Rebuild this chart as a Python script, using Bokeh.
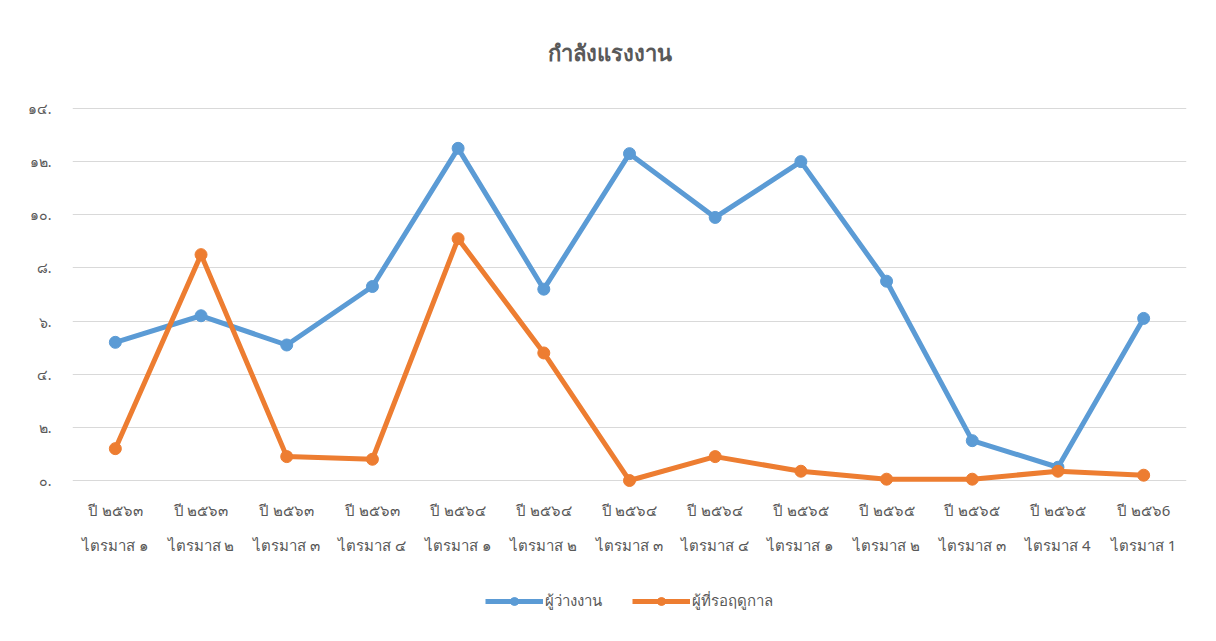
from bokeh.plotting import figure
from bokeh.layouts import column
from bokeh.models import FixedTicker, Legend, LegendItem, ColumnDataSource, LinearAxis
from bokeh.embed import file_html
from bokeh.resources import INLINE

years = ["ปี ๒๕๖๓", "ปี ๒๕๖๓", "ปี ๒๕๖๓", "ปี ๒๕๖๓", "ปี ๒๕๖๔", "ปี ๒๕๖๔", "ปี ๒๕๖๔",
         "ปี ๒๕๖๔", "ปี ๒๕๖๕", "ปี ๒๕๖๕", "ปี ๒๕๖๕", "ปี ๒๕๖๕", "ปี ๒๕๖6"]
quarters = ["ไตรมาส ๑", "ไตรมาส ๒", "ไตรมาส ๓", "ไตรมาส ๔", "ไตรมาส ๑", "ไตรมาส ๒", "ไตรมาส ๓",
            "ไตรมาส ๔", "ไตรมาส ๑", "ไตรมาส ๒", "ไตรมาส ๓", "ไตรมาส 4", "ไตรมาส 1"]
unemployed = [5.2, 6.2, 5.1, 7.3, 12.5, 7.2, 12.3, 9.9, 12.0, 7.5, 1.5, 0.5, 6.1]
seasonal = [1.2, 8.5, 0.9, 0.8, 9.1, 4.8, 0.0, 0.9, 0.35, 0.05, 0.05, 0.35, 0.2]
y_ticks = [0, 2, 4, 6, 8, 10, 12, 14]
y_tick_labels = ["๐.", "๒.", "๔.", "๖.", "๘.", "๑๐.", "๑๒.", "๑๔."]
series_names = ["ผู้ว่างงาน", "ผู้ที่รอฤดูกาล"]
title_text = "กำลังแรงงาน"

FONT = "Noto Sans"
GRAY = "#595959"
BLUE = "#5B9BD5"
ORANGE = "#ED7D31"

idx = list(range(len(years)))

p = figure(x_range=(-0.5, len(years) - 0.5), y_range=(-0.3, 14.3),
           frame_width=1114, frame_height=388,
           output_backend="svg", toolbar_location=None, title=title_text, x_axis_location=None,
           min_border_left=72, min_border_right=22, min_border_top=100, min_border_bottom=80)
p.outline_line_color = None
p.title.align = "left"
p.title.offset = 475
p.title.standoff = 67
p.title.text_font = FONT
p.title.text_font_size = "22px"
p.title.text_font_style = "bold"
p.title.text_color = GRAY

ax_year = LinearAxis(ticker=FixedTicker(ticks=idx),
                     major_label_overrides={i: s for i, s in zip(idx, years)})
ax_q = LinearAxis(ticker=FixedTicker(ticks=idx),
                  major_label_overrides={i: s for i, s in zip(idx, quarters)})
p.add_layout(ax_year, "below")
p.add_layout(ax_q, "below")

p.xgrid.grid_line_color = None
p.ygrid.grid_line_color = "#d9d9d9"
p.ygrid.grid_line_width = 1
p.yaxis.ticker = FixedTicker(ticks=y_ticks)
p.yaxis.major_label_overrides = {t: l for t, l in zip(y_ticks, y_tick_labels)}
for ax in (ax_year, ax_q, p.yaxis[0]):
    ax.axis_line_color = None
    ax.major_tick_line_color = None
    ax.minor_tick_line_color = None
    ax.major_label_text_font = FONT
    ax.major_label_text_color = GRAY
    ax.major_label_text_font_size = "15px"
p.yaxis.major_label_text_font_size = "14px"
p.yaxis.major_label_standoff = 15
ax_year.major_label_standoff = 5
ax_q.major_label_standoff = 6

src = ColumnDataSource(dict(x=idx, u=unemployed, s=seasonal))
p.line("x", "u", source=src, line_color=BLUE, line_width=5)
p.scatter("x", "u", source=src, size=12, color=BLUE)
p.line("x", "s", source=src, line_color=ORANGE, line_width=5)
p.scatter("x", "s", source=src, size=12, color=ORANGE)

# legend strip below the chart
lg = figure(width=p.frame_width + 72 + 22, height=66, output_backend="svg", toolbar_location=None,
            x_range=(0, 1), y_range=(0, 1),
            x_axis_location=None, y_axis_location=None, min_border=0)
lg.outline_line_color = None
lg.grid.grid_line_color = None
offscreen = ColumnDataSource(dict(x=[-10, -11], y=[-10, -11]))
el1 = lg.line("x", "y", source=offscreen, line_color=BLUE, line_width=5)
ec1 = lg.scatter("x", "y", source=offscreen, size=12, color=BLUE)
el2 = lg.line("x", "y", source=offscreen, line_color=ORANGE, line_width=5)
ec2 = lg.scatter("x", "y", source=offscreen, size=12, color=ORANGE)
legend = Legend(items=[LegendItem(label=series_names[0], renderers=[el1, ec1]),
                       LegendItem(label=series_names[1], renderers=[el2, ec2])],
                orientation="horizontal", location="center",
                label_text_font=FONT, label_text_font_size="15px", label_text_color=GRAY,
                glyph_width=58, glyph_height=20, spacing=30, border_line_color=None,
                background_fill_alpha=0, margin=0, padding=4, label_standoff=2)
lg.add_layout(legend, "center")

layout = column(p, lg, spacing=0)
open("out.html", "w").write(file_html(layout, INLINE))
